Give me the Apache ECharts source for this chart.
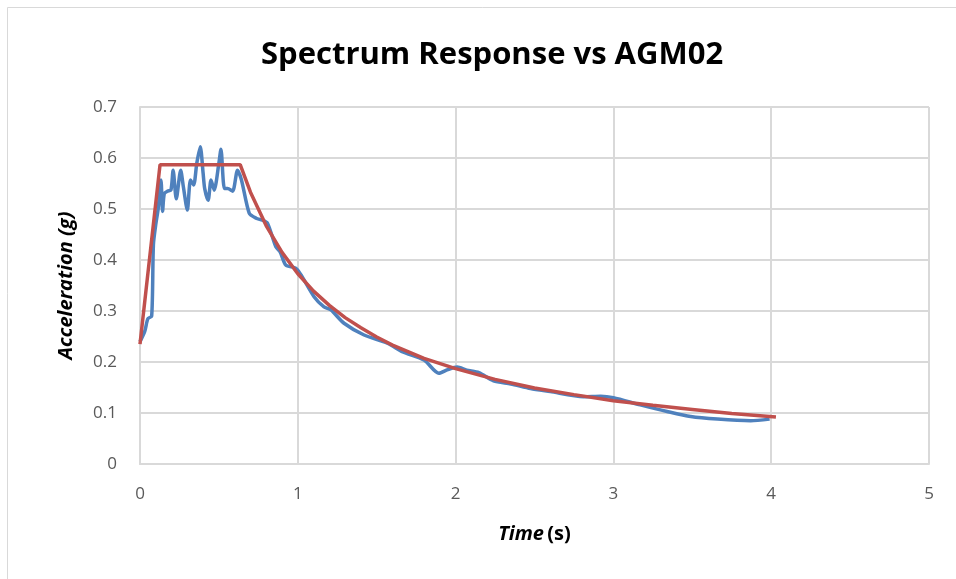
<!DOCTYPE html>
<html>
<head>
<meta charset="utf-8">
<script src="https://cdn.jsdelivr.net/npm/echarts@6/dist/echarts.min.js"></script>
<style>html,body{margin:0;padding:0;background:#fff;}#c{width:956px;height:579px;}</style>
</head>
<body>
<div id="c"></div>
<script>
// Recorded (AGM02) response spectrum
const agmTime = [0, 0.03, 0.05, 0.074, 0.085, 0.101, 0.115, 0.133, 0.143, 0.154, 0.175, 0.196, 0.21, 0.23, 0.258, 0.275, 0.30, 0.32, 0.34, 0.36, 0.382, 0.40, 0.41, 0.432, 0.45, 0.47, 0.50, 0.513, 0.535, 0.555, 0.587, 0.618, 0.643, 0.692, 0.736, 0.776, 0.808, 0.861, 0.888, 0.924, 0.987, 1.02, 1.103, 1.166, 1.21, 1.293, 1.42, 1.567, 1.665, 1.8, 1.894, 1.95, 2.01, 2.07, 2.148, 2.24, 2.35, 2.475, 2.6, 2.81, 2.92, 3.0, 3.17, 3.34, 3.49, 3.66, 3.87, 3.99];
const agmAcc  = [0.24, 0.26, 0.285, 0.29, 0.43, 0.472, 0.50, 0.557, 0.495, 0.53, 0.535, 0.537, 0.576, 0.52, 0.576, 0.543, 0.498, 0.557, 0.547, 0.59, 0.622, 0.57, 0.54, 0.517, 0.557, 0.537, 0.59, 0.617, 0.54, 0.54, 0.535, 0.576, 0.557, 0.492, 0.482, 0.478, 0.472, 0.426, 0.416, 0.39, 0.384, 0.371, 0.328, 0.308, 0.302, 0.276, 0.253, 0.237, 0.22, 0.204, 0.178, 0.185, 0.19, 0.184, 0.179, 0.163, 0.157, 0.148, 0.142, 0.132, 0.133, 0.13, 0.116, 0.103, 0.093, 0.088, 0.085, 0.088];
// Design spectrum
const specTime = [0, 0.127, 0.635, 0.7, 0.8, 0.9, 1.0, 1.1, 1.2, 1.3, 1.4, 1.5, 1.6, 1.8, 2.0, 2.25, 2.5, 2.75, 3.0, 3.25, 3.5, 3.75, 4.03];
const specAcc  = [0.235, 0.587, 0.587, 0.533, 0.467, 0.415, 0.373, 0.339, 0.311, 0.287, 0.267, 0.249, 0.233, 0.207, 0.187, 0.166, 0.149, 0.136, 0.124, 0.115, 0.107, 0.099, 0.092];
const xTicks = [0, 1, 2, 3, 4, 5];
const yTicks = [0, 0.1, 0.2, 0.3, 0.4, 0.5, 0.6, 0.7];

const zip = (a, b) => a.map((v, i) => [v, b[i]]);
const chart = echarts.init(document.getElementById('c'), null, {renderer: 'canvas'});
const font = '"Open Sans", "DejaVu Sans", sans-serif';
chart.setOption({
  animation: false,
  backgroundColor: '#fff',
  graphic: [{
    type: 'rect', shape: {x: 7.5, y: 7.5, width: 1200, height: 1200},
    style: {fill: 'none', stroke: '#D9D9D9', lineWidth: 1}, silent: true, z: -1
  }],
  title: {
    text: 'Spectrum Response vs AGM02', left: 256, top: 35,
    textStyle: {fontFamily: font, fontWeight: 'bold', fontSize: 31, color: '#000'}
  },
  grid: {left: 140, right: 27, top: 107, bottom: 115, containLabel: false},
  xAxis: {
    type: 'value', min: xTicks[0], max: xTicks[xTicks.length - 1], interval: 1,
    name: '{a|Time} {b|(s)}', nameLocation: 'middle', nameGap: 60,
    nameTextStyle: {rich: {
      a: {fontFamily: font, fontWeight: 'bold', fontStyle: 'italic', fontSize: 20, color: '#000'},
      b: {fontFamily: font, fontWeight: 'bold', fontSize: 20, color: '#000'}
    }},
    axisLine: {show: true, lineStyle: {color: '#D9D9D9', width: 2}},
    axisTick: {show: false},
    axisLabel: {fontFamily: font, fontSize: 17, color: '#595959', margin: 22},
    splitLine: {show: true, lineStyle: {color: '#D9D9D9', width: 2}}
  },
  yAxis: {
    type: 'value', min: yTicks[0], max: yTicks[yTicks.length - 1], interval: 0.1,
    name: 'Acceleration (g)', nameLocation: 'middle', nameGap: 64,
    nameTextStyle: {fontFamily: font, fontWeight: 'bold', fontStyle: 'italic', fontSize: 20, color: '#000'},
    axisLine: {show: true, lineStyle: {color: '#D9D9D9', width: 2}},
    axisTick: {show: false},
    axisLabel: {fontFamily: font, fontSize: 17, color: '#595959', margin: 23,
      formatter: v => String(Math.round(v * 10) / 10)},
    splitLine: {show: true, lineStyle: {color: '#D9D9D9', width: 2}}
  },
  series: [
    {type: 'line', name: 'AGM02', data: zip(agmTime, agmAcc), showSymbol: false, smooth: 0.25,
     lineStyle: {color: '#4F81BD', width: 3.5}, z: 2},
    {type: 'line', name: 'Spectrum', data: zip(specTime, specAcc), showSymbol: false, smooth: false,
     lineStyle: {color: '#C0504D', width: 3.5}, z: 3}
  ]
});
</script>
</body>
</html>
